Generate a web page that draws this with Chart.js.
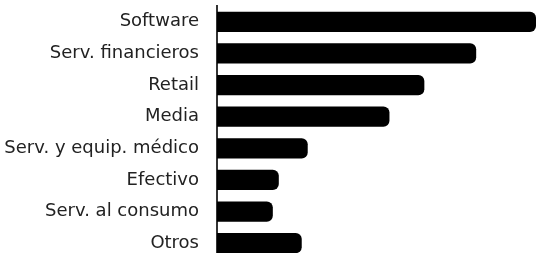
<!DOCTYPE html>
<html>
<head>
<meta charset="utf-8">
<script src="https://cdn.jsdelivr.net/npm/chart.js@4/dist/chart.umd.min.js"></script>
<style>
  html, body { margin: 0; padding: 0; background: #fff; overflow: hidden; }
  #wrap { width: 536px; height: 260px; }
</style>
</head>
<body>
<div id="wrap"><canvas id="chart"></canvas></div>
<script>
const categories = ['Software', 'Serv. financieros', 'Retail', 'Media',
  'Serv. y equip. médico', 'Efectivo', 'Serv. al consumo', 'Otros'];
const values = [32, 26, 20.8, 17.3, 9.1, 6.2, 5.6, 8.5];

const ctx = document.getElementById('chart');
new Chart(ctx, {
  type: 'bar',
  data: {
    labels: categories,
    datasets: [{
      data: values,
      backgroundColor: '#000',
      borderRadius: { topRight: 6, bottomRight: 6 },
      borderSkipped: false,
      categoryPercentage: 1,
      barPercentage: 0.64
    }]
  },
  options: {
    indexAxis: 'y',
    responsive: true,
    maintainAspectRatio: false,
    animation: false,
    layout: { padding: { top: 6, bottom: 1, left: 0, right: 0 } },
    plugins: { legend: { display: false }, tooltip: { enabled: false } },
    scales: {
      x: { display: false, min: 0, max: 32 },
      y: {
        grid: { display: false, drawTicks: false },
        border: { display: true, color: '#333', width: 2 },
        ticks: {
          color: '#222',
          padding: 18,
          font: { family: 'DejaVu Sans', size: 18 }
        },
        afterFit: scale => {
          // fixed axis position, no extra top/bottom label padding
          scale.width = 217;
          scale.paddingTop = 0;
          scale.paddingBottom = 0;
        }
      }
    }
  }
});
</script>
</body>
</html>
